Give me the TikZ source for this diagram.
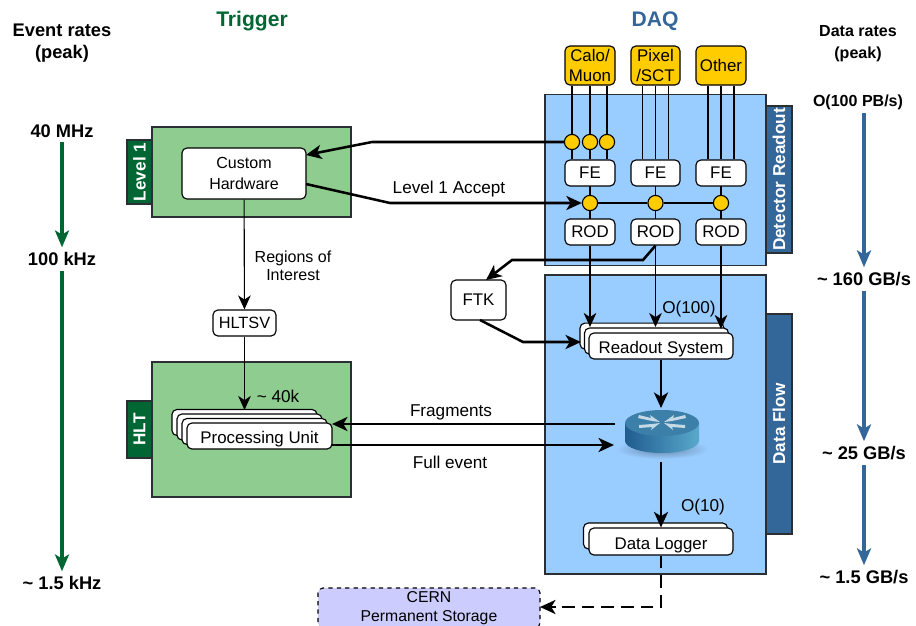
\documentclass[tikz,border=0pt]{standalone}
\usepackage{fontspec}
\setmainfont{Liberation Sans}
\usetikzlibrary{arrows.meta}

\definecolor{panelblue}{HTML}{99CCFF}
\definecolor{panelgreen}{HTML}{8FCC8F}
\definecolor{tabblue}{HTML}{336699}
\definecolor{tabgreen}{HTML}{006633}
\definecolor{sensoryellow}{HTML}{FFCC00}
\definecolor{storagelilac}{HTML}{CCCCFF}
\definecolor{edgegrey}{HTML}{2A2F33}
\definecolor{routertop}{HTML}{3C7FA8}
\definecolor{routerleft}{HTML}{1F5C8F}
\definecolor{routerright}{HTML}{5AA9CC}

\tikzset{
    size/.style 2 args={minimum width=#1*0.025cm, minimum height=#2*0.025cm, inner sep=0pt},
    panel/.style={draw=edgegrey, line width=0.8pt},
    tab/.style={draw=edgegrey, line width=0.8pt, text=white, font=\fontsize{12.2}{14}\selectfont\bfseries, rotate=90},
    whitebox/.style={draw=black, fill=white, rounded corners=3.5pt, line width=0.8pt, font=\fontsize{12}{14}\selectfont, align=center},
    lowtext/.style={text height=11pt, text depth=0pt},
    sensor/.style={whitebox, fill=sensoryellow},
    fork/.style={circle, draw=black, fill=sensoryellow, line width=0.8pt, minimum size=0.38cm, inner sep=0pt},
    rate/.style={font=\fontsize{13}{15.5}\selectfont\bfseries, align=center},
    smallrate/.style={font=\fontsize{11.4}{15.5}\selectfont\bfseries, align=center},
    note/.style={font=\fontsize{12.2}{15}\selectfont, align=center},
    wire/.style={draw=black, line width=0.8pt},
    thinarrow/.style={wire, -{Stealth[length=10pt, width=9pt, inset=3pt]}},
    thickarrow/.style={draw=black, line width=1.8pt, -{Stealth[length=11pt, width=10pt, inset=3pt]}},
    ratearrow/.style={line width=2.4pt, -{Stealth[length=12pt, width=10pt, inset=3pt]}}
}

\begin{document}
\begin{tikzpicture}[x=0.025cm, y=-0.025cm]
    \useasboundingbox (0,0) rectangle (916,626);

    % Rate columns and titles
    \node[rate] (eventtitle) at (62,43) {Event rates\\(peak)};
    \node[smallrate] (datatitle) at (858,44) {Data rates\\(peak)};
    \node[font=\fontsize{15}{17}\selectfont\bfseries, text=tabgreen] (triggertitle) at (252,21) {Trigger};
    \node[font=\fontsize{15}{17}\selectfont\bfseries, text=tabblue] (daqtitle) at (655,21) {DAQ};

    \node[rate] (rateA) at (62,131) {40 MHz};
    \node[rate] (rateB) at (62,259) {100 kHz};
    \node[rate] (rateC) at (62,583) {\textasciitilde{} 1.5 kHz};
    \draw[ratearrow, draw=tabgreen] (rateA) -- (rateB);
    \draw[ratearrow, draw=tabgreen] (rateB) -- (rateC);

    \node[smallrate] (dataA) at (858,102) {O(100 PB/s)};
    \node[rate] (dataB) at (864,279) {\textasciitilde{} 160 GB/s};
    \node[rate] (dataC) at (864,453) {\textasciitilde{} 25 GB/s};
    \node[rate] (dataD) at (864,577) {\textasciitilde{} 1.5 GB/s};
    \coordinate (dataAb) at (864,113);
    \draw[ratearrow, draw=tabblue] (dataAb) -- (dataB);
    \draw[ratearrow, draw=tabblue] (dataB) -- (dataC);
    \draw[ratearrow, draw=tabblue] (dataC) -- (dataD);

    % Panels
    \node[panel, fill=panelgreen, size={199}{90}] (level1) at (251.5,172) {};
    \node[panel, fill=panelgreen, size={199}{135}] (hlt) at (251.5,429.5) {};
    \node[panel, fill=panelblue, size={221}{171}] (readout) at (655.5,180) {};
    \node[panel, fill=panelblue, size={221}{299}] (dataflow) at (655.5,424.5) {};
    \node[tab, fill=tabgreen, size={64}{25}] (level1tab) at (139.5,172) {Level 1};
    \node[tab, fill=tabgreen, size={57}{25}] (hlttab) at (139.5,429.5) {HLT};
    \node[tab, fill=tabblue, size={147}{26}] (readouttab) at (779,179.5) {Detector Readout};
    \node[tab, fill=tabblue, size={220}{26}] (dataflowtab) at (779,424) {Data Flow};

    % Wires behind the readout boxes
    \coordinate (wireA) at (590,173);
    \coordinate (wireB) at (655.5,173);
    \coordinate (wireC) at (721,173);
    \coordinate (wireAb) at (590,232);
    \coordinate (wireBb) at (655.5,232);
    \coordinate (wireCb) at (721,232);
    \draw[wire] (wireA) -- (wireAb);
    \draw[wire] (wireB) -- (wireBb);
    \draw[wire] (wireC) -- (wireCb);

    % Sensors, front ends and readout drivers
    \node[sensor, size={50}{39}] (calo) at (590,65.5) {Calo/\\Muon};
    \node[sensor, size={49}{39}] (pixel) at (655.5,65.5) {Pixel\\/SCT};
    \node[sensor, size={50}{39}] (other) at (721,65.5) {Other};
    \node[whitebox, size={50}{26}] (feA) at (590,173) {FE};
    \node[whitebox, size={49}{26}] (feB) at (655.5,173) {FE};
    \node[whitebox, size={50}{26}] (feC) at (721,173) {FE};
    \node[whitebox, size={50}{26}] (rodA) at (590,232) {ROD};
    \node[whitebox, size={49}{26}] (rodB) at (655.5,232) {ROD};
    \node[whitebox, size={50}{26}] (rodC) at (721,232) {ROD};

    \foreach \dx in {-18,0,17} {
        \draw[wire] ([xshift=\dx*0.025cm]calo.south) -- ([xshift=\dx*0.025cm]feA.north);
    }
    \foreach \dx in {-13,0,13} {
        \draw[wire] ([xshift=\dx*0.025cm]pixel.south) -- ([xshift=\dx*0.025cm]feB.north);
        \draw[wire] ([xshift=\dx*0.025cm]other.south) -- ([xshift=\dx*0.025cm]feC.north);
    }

    \node[fork] (forkA) at (572,142) {};
    \node[fork] (forkB) at (590,142) {};
    \node[fork] (forkC) at (607,142) {};
    \node[fork] (acceptA) at (590,203) {};
    \node[fork] (acceptB) at (655.5,203) {};
    \node[fork] (acceptC) at (721,203) {};
    \draw[wire] (acceptA) -- (acceptB);
    \draw[wire] (acceptB) -- (acceptC);

    % Stacked boxes
    \foreach \dx in {-9,-4.5} {
        \node[whitebox, size={144}{26}] at (661+\dx,346+\dx*1.1) {};
    }
    \node[whitebox, lowtext, size={144}{26}] (readoutsys) at (661,346) {Readout System};
    \node[whitebox, size={144}{26}] at (655.5,536) {};
    \node[whitebox, lowtext, size={144}{27}] (logger) at (661,541.5) {Data Logger};
    \foreach \dx in {-15,-10,-5} {
        \node[whitebox, size={145}{26}] at (259.5+\dx,436+\dx*0.9) {};
    }
    \node[whitebox, lowtext, size={145}{26}] (unit) at (259.5,436) {Processing Unit};

    % Trigger side boxes
    \node[whitebox, size={124}{51}, font=\fontsize{11.4}{15}\selectfont] (hardware) at (244,173.5) {Custom\\Hardware};
    \node[whitebox, size={63}{26}, font=\fontsize{11.6}{14}\selectfont] (hltsv) at (244.5,323) {HLTSV};
    \node[whitebox, size={55}{40}] (ftk) at (478.5,300) {FTK};
    \node[draw=black, dashed, fill=storagelilac, rounded corners=3.5pt, line width=0.8pt, size={222}{40},
        font=\fontsize{11.2}{13.5}\selectfont, align=center] (storage) at (429,608) {CERN\\Permanent Storage};

    % Router
    \shade[inner color=black!35!panelblue, outer color=panelblue] (662,449) ellipse (46 and 10);
    \shade[left color=routerleft, right color=routerright]
        (625,423) -- (625,441) arc (180:0:37 and 12) -- (699,423) -- cycle;
    \fill[routertop] (662,423) ellipse (37 and 13);
    \foreach \sx in {-1,1} {
        \fill[white!70!routertop] (662+\sx*2,422) -- (662+\sx*12,415) -- (662+\sx*11,418) -- (662+\sx*23,415)
            -- (662+\sx*24,418) -- (662+\sx*10,421) -- cycle;
        \fill[white!70!routertop] (662+\sx*2,423) -- (662+\sx*11,430) -- (662+\sx*10,427) -- (662+\sx*23,428)
            -- (662+\sx*23,425) -- (662+\sx*10,424) -- cycle;
    }

    % Connectors
    \coordinate (routerin) at (661,408);
    \coordinate (routerout) at (661,462);
    \coordinate (fragstart) at (615,424);
    \coordinate (fullend) at (614,445);
    \coordinate (roiA) at (372,142);
    \coordinate (acceptbend) at (390,203);
    \coordinate (hwout) at (306,184);
    \coordinate (hwin) at (306,155);
    \coordinate (ftkbendA) at (643,260);
    \coordinate (ftkbendB) at (512,260);
    \coordinate (ftkin) at (486,280);
    \coordinate (ftkout) at (480,320);
    \coordinate (rsbend) at (523,342);
    \coordinate (rsin) at (581,342);
    \coordinate (unitin) at (332,424);
    \coordinate (unitout) at (332,445);
    \coordinate (storebend) at (661,607);
    \coordinate (storein) at (540,607);
    \coordinate (storehead) at (556,607);

    \draw[thickarrow] (forkA) -- (roiA) -- (hwin);
    \draw[thickarrow] (hwout) -- (acceptbend) -- (acceptA);
    \draw[thickarrow] (rodB.south) -- (ftkbendA) -- (ftkbendB) -- (ftkin);
    \draw[thickarrow] (ftkout) -- (rsbend) -- (rsin);
    \draw[thinarrow] (hardware) -- (hltsv);
    \draw[thinarrow] (hltsv.south) -- (244.5,410);
    \draw[thinarrow] (rodA.south) -- (590,327);
    \draw[thinarrow] (rodB.south) -- (655.5,327);
    \draw[thinarrow] (rodC.south) -- (721,329);
    \draw[thickarrow] (readoutsys.south) -- (routerin);
    \draw[thickarrow] (routerout) -- (logger.north);
    \draw[thickarrow] (fragstart) -- (unitin);
    \draw[thickarrow] (unitout) -- (fullend);
    \draw[draw=black, line width=1.8pt, dash pattern=on 9pt off 5pt] (logger.south) -- (storebend) -- (storein);
    \draw[thickarrow] (storehead) -- (storein);

    % Labels
    \node[note, font=\fontsize{11.4}{13}\selectfont] (roilabel) at (293,266) {Regions of\\Interest};
    \node[note] (acceptlabel) at (449,189) {Level 1 Accept};
    \node[note] (fraglabel) at (451,412) {Fragments};
    \node[note] (fulllabel) at (450,462) {Full event};
    \node[note] (unitcount) at (278,396) {\textasciitilde{} 40k};
    \node[note] (rscount) at (689,309) {O(100)};
    \node[note] (loggercount) at (703,507) {O(10)};
\end{tikzpicture}
\end{document}
